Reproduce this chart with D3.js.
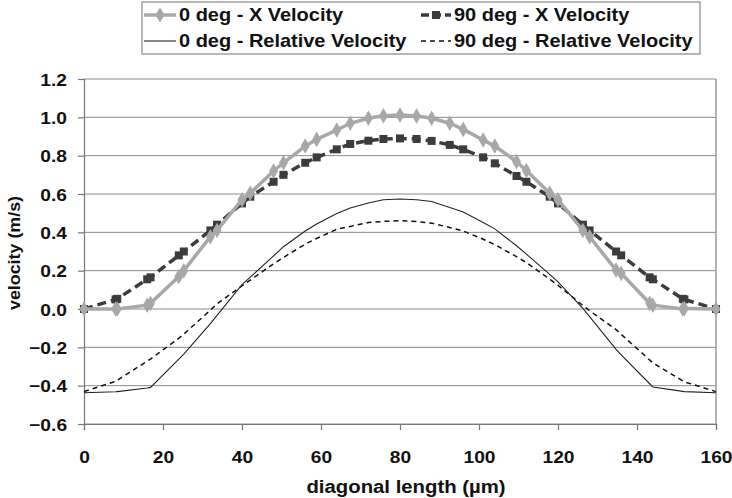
<!DOCTYPE html>
<html><head><meta charset="utf-8">
<script src="https://cdn.jsdelivr.net/npm/d3@7/dist/d3.min.js"></script>
<style>body{margin:0;background:#fff}svg{display:block}text{font-family:"Liberation Sans",Arial,sans-serif;font-weight:bold;fill:#111}</style>
</head><body><svg id="c" width="732" height="498"></svg>
<script>
const xs = [0,8,8.42,16,16.84,24,25.26,32,33.68,40,42.1,48,50.5,56,58.9,64,67.4,72,75.8,80,84.2,88,92.6,96,101.05,104,109.5,112,117.9,120,126.3,128,134.7,136,143.2,144,151.6,152,160];
const x0deg = [0,0,0,0.02,0.03,0.17,0.2,0.377,0.41,0.57,0.604,0.72,0.763,0.85,0.885,0.934,0.969,0.995,1.008,1.012,1.007,0.995,0.969,0.937,0.882,0.85,0.769,0.722,0.604,0.57,0.41,0.377,0.203,0.186,0.03,0.02,0,0.003,0];
const x90deg = [0,0.05,0.053,0.155,0.165,0.28,0.3,0.41,0.44,0.551,0.586,0.664,0.7,0.763,0.791,0.833,0.861,0.878,0.887,0.89,0.887,0.877,0.856,0.833,0.791,0.76,0.694,0.664,0.586,0.551,0.44,0.41,0.3,0.28,0.165,0.155,0.053,0.05,0];
const rel0deg = [-0.437,-0.432,-0.431,-0.412,-0.409,-0.261,-0.235,-0.076,-0.033,0.127,0.166,0.277,0.325,0.407,0.443,0.498,0.527,0.553,0.57,0.574,0.57,0.561,0.53,0.506,0.451,0.418,0.33,0.286,0.181,0.142,0.003,-0.04,-0.211,-0.239,-0.39,-0.407,-0.43,-0.431,-0.437];
const rel90deg = [-0.43,-0.378,-0.372,-0.272,-0.261,-0.153,-0.131,-0.006,0.027,0.121,0.151,0.236,0.269,0.338,0.368,0.416,0.431,0.451,0.457,0.461,0.456,0.448,0.425,0.407,0.364,0.336,0.273,0.242,0.156,0.124,0.018,-0.009,-0.108,-0.132,-0.266,-0.281,-0.375,-0.38,-0.431];
const xTicks = [0,20,40,60,80,100,120,140,160];
const yTicks = [-0.6,-0.4,-0.2,0.0,0.2,0.4,0.6,0.8,1.0,1.2];
const legendLabels = ["0 deg - X Velocity","90 deg - X Velocity","0 deg - Relative Velocity","90 deg - Relative Velocity"];

const svg = d3.select("#c");
const L=84,R=716,T=79,B=424;
const x = d3.scaleLinear().domain([0,160]).range([L,R]);
const y = d3.scaleLinear().domain([-0.6,1.2]).range([B,T]);

// gridlines
svg.append("g").selectAll("line").data(yTicks).join("line")
  .attr("x1",L).attr("x2",R).attr("y1",d=>y(d)).attr("y2",d=>y(d))
  .attr("stroke","#8a8a8a").attr("stroke-width",1);
svg.append("line").attr("x1",R).attr("x2",R).attr("y1",T).attr("y2",B).attr("stroke","#9a9a9a").attr("stroke-width",1.5);

// axes
const yAxis = svg.append("g").attr("transform",`translate(${L},0)`)
  .call(d3.axisLeft(y).tickValues(yTicks).tickFormat(d3.format(".1f")).tickSize(6).tickPadding(9));
const xAxis = svg.append("g").attr("transform",`translate(0,${B})`)
  .call(d3.axisBottom(x).tickValues(xTicks).tickSize(6).tickPadding(21));
[yAxis,xAxis].forEach(a=>{
  a.select(".domain").attr("stroke","#777").attr("stroke-width",1.2);
  a.selectAll(".tick line").attr("stroke","#777").attr("stroke-width",1.2);
  a.selectAll("text").attr("font-size","17px").attr("fill","#111").attr("transform","scale(1.13,1)")
    .style("font-family",'"Liberation Sans",Arial,sans-serif').style("font-weight","bold");
});
yAxis.selectAll("text").attr("dy","0.36em");

svg.append("text").attr("transform",`translate(${(L+R)/2+6},493) scale(1.13,1)`).attr("text-anchor","middle").attr("font-size","18px").text("diagonal length (µm)");
svg.append("text").attr("transform","translate(20,253) rotate(-90) scale(1.05,1)").attr("text-anchor","middle").attr("font-size","17px").text("velocity (m/s)");

const line = vals => d3.line().x((d,i)=>x(xs[i])).y(d=>y(d))(vals);

// relative lines
svg.append("path").attr("d",line(rel90deg)).attr("fill","none").attr("stroke","#111").attr("stroke-width",1.5).attr("stroke-dasharray","5,4");
svg.append("path").attr("d",line(rel0deg)).attr("fill","none").attr("stroke","#222").attr("stroke-width",1.1);

// 90 deg X
svg.append("path").attr("d",line(x90deg)).attr("fill","none").attr("stroke","#3c3c3c").attr("stroke-width",3.5).attr("stroke-dasharray","9,5");
svg.append("g").selectAll("rect").data(x90deg).join("rect")
  .attr("x",(d,i)=>x(xs[i])-4).attr("y",d=>y(d)-4).attr("width",8).attr("height",8).attr("fill","#3c3c3c");

// 0 deg X
svg.append("path").attr("d",line(x0deg)).attr("fill","none").attr("stroke","#a8a8a8").attr("stroke-width",3.5);
const diamond = d3.symbol().type(d3.symbolDiamond).size(70);
svg.append("g").selectAll("path").data(x0deg).join("path")
  .attr("d",diamond).attr("transform",(d,i)=>`translate(${x(xs[i])},${y(d)})`).attr("fill","#a8a8a8");

// legend
const lg = svg.append("g");
lg.append("rect").attr("x",142).attr("y",2).attr("width",558).attr("height",52).attr("fill","#fff").attr("stroke","#a0a0a0").attr("stroke-width",1.5);
const rows=[15,41];
const cols=[[144,176,179],[421,451,454]];
lg.append("line").attr("x1",cols[0][0]).attr("x2",cols[0][1]).attr("y1",rows[0]).attr("y2",rows[0]).attr("stroke","#a8a8a8").attr("stroke-width",3.5);
lg.append("path").attr("d",diamond).attr("transform",`translate(${(cols[0][0]+cols[0][1])/2},${rows[0]})`).attr("fill","#a8a8a8");
lg.append("line").attr("x1",cols[1][0]).attr("x2",cols[1][1]).attr("y1",rows[0]).attr("y2",rows[0]).attr("stroke","#3c3c3c").attr("stroke-width",3.5).attr("stroke-dasharray","8,4");
lg.append("rect").attr("x",(cols[1][0]+cols[1][1])/2-4).attr("y",rows[0]-4).attr("width",8).attr("height",8).attr("fill","#3c3c3c");
lg.append("line").attr("x1",cols[0][0]).attr("x2",cols[0][1]).attr("y1",rows[1]).attr("y2",rows[1]).attr("stroke","#222").attr("stroke-width",1.1);
lg.append("line").attr("x1",cols[1][0]).attr("x2",cols[1][1]).attr("y1",rows[1]).attr("y2",rows[1]).attr("stroke","#111").attr("stroke-width",1.5).attr("stroke-dasharray","5,4");
const pos=[[cols[0][2],rows[0]],[cols[1][2],rows[0]],[cols[0][2],rows[1]],[cols[1][2],rows[1]]];
legendLabels.forEach((t,i)=>{
  lg.append("text").attr("transform",`translate(${pos[i][0]},${pos[i][1]}) scale(1.11,1)`).attr("dy","0.36em").attr("font-size","18px").text(t);
});
</script></body></html>
